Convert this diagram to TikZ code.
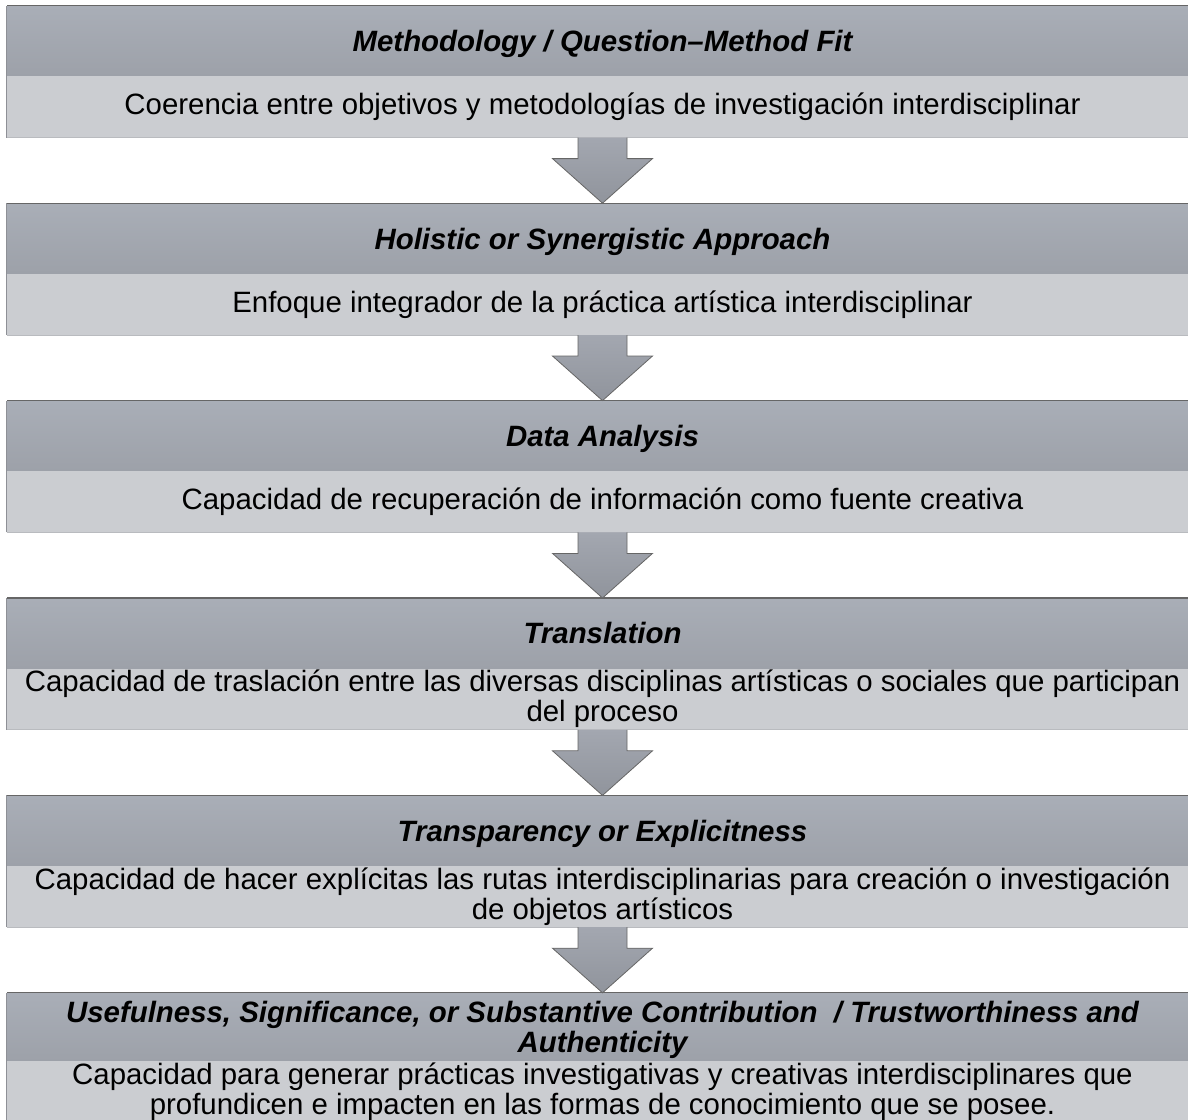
\documentclass[tikz,border=0pt]{standalone}
\usepackage{fontspec}
\setmainfont{Liberation Sans}
\usetikzlibrary{positioning,calc}

\definecolor{hdrtop}{HTML}{A9AEB7}
\definecolor{hdrbot}{HTML}{9DA1A9}
\definecolor{bodyfill}{HTML}{CBCDD1}
\definecolor{edgedark}{HTML}{666666}
\definecolor{edgemid}{HTML}{8E9096}
\definecolor{edgelight}{HTML}{B9BBBF}
\definecolor{arrowtop}{HTML}{A3A7B0}
\definecolor{arrowbot}{HTML}{90949C}

\begin{document}
\begin{tikzpicture}[x=1pt, y=-1pt, line join=miter,
  hdr/.style={rectangle, inner sep=0pt, minimum width=1191pt, minimum height=70pt,
    top color=hdrtop, bottom color=hdrbot, align=center, text depth=0pt,
    font=\fontsize{29.4}{30}\selectfont\bfseries\itshape},
  bdy/.style={rectangle, inner sep=0pt, minimum width=1191pt, minimum height=61pt,
    fill=bodyfill, align=center,
    font=\fontsize{29.4}{30}\selectfont},
  topedge/.style={draw=edgedark, line width=1.2pt},
  sideedge/.style={draw=edgemid, line width=0.9pt},
  baseedge/.style={draw=edgelight, line width=0.9pt},
  downarrow/.style={top color=arrowtop, bottom color=arrowbot, draw=edgedark, line width=0.8pt}]

  %% ════ 画布（先钉死）════
  \path[use as bounding box] (0,0) rectangle (1188,1119);

  %% ════ 六个块：标题 + 说明 ════
  \node[hdr] (h1) at (602.5,41.0) {Methodology / Question–Method Fit};
  \node[bdy, below=0pt of h1] (b1) {Coerencia entre objetivos y metodologías de investigación interdisciplinar};

  \node[hdr] (h2) at (602.5,238.4) {Holistic or Synergistic Approach};
  \node[bdy, below=0pt of h2] (b2) {Enfoque integrador de la práctica artística interdisciplinar};

  \node[hdr] (h3) at (602.5,435.8) {Data Analysis};
  \node[bdy, below=0pt of h3] (b3) {Capacidad de recuperación de información como fuente creativa};

  \node[hdr] (h4) at (602.5,633.2) {Translation};
  \node[bdy, below=0pt of h4] (b4) {Capacidad de traslación entre las diversas disciplinas artísticas o sociales que participan\\del proceso};

  \node[hdr] (h5) at (602.5,830.6) {Transparency or Explicitness};
  \node[bdy, below=0pt of h5] (b5) {Capacidad de hacer explícitas las rutas interdisciplinarias para creación o investigación\\de objetos artísticos};

  \node[hdr, minimum height=68pt] (h6) at (602.5,1027.0) {Usefulness, Significance, or Substantive Contribution~ / Trustworthiness and\\Authenticity};
  \node[bdy, below=0pt of h6] (b6) {Capacidad para generar prácticas investigativas y creativas interdisciplinares que\\profundicen e impacten en las formas de conocimiento que se posee.};

  %% ════ 边框：上边深、左边中、下边浅（标题与说明之间无线）════
  \draw[sideedge] (b1.south west) -- (h1.north west);
  \draw[sideedge] (b2.south west) -- (h2.north west);
  \draw[sideedge] (b3.south west) -- (h3.north west);
  \draw[sideedge] (b4.south west) -- (h4.north west);
  \draw[sideedge] (b5.south west) -- (h5.north west);
  \draw[sideedge] (b6.south west) -- (h6.north west);
  \draw[baseedge] (b1.south west) -- (b1.south east);
  \draw[baseedge] (b2.south west) -- (b2.south east);
  \draw[baseedge] (b3.south west) -- (b3.south east);
  \draw[baseedge] (b4.south west) -- (b4.south east);
  \draw[baseedge] (b5.south west) -- (b5.south east);
  \draw[topedge] (h1.north west) -- (h1.north east);
  \draw[topedge] (h2.north west) -- (h2.north east);
  \draw[topedge] (h3.north west) -- (h3.north east);
  \draw[topedge] (h4.north west) -- (h4.north east);
  \draw[topedge] (h5.north west) -- (h5.north east);
  \draw[topedge] (h6.north west) -- (h6.north east);

  %% ════ 块箭头（说明底 → 下一标题顶）════
  \draw[downarrow] ($(b1.south)+(-24.5,0)$) -- ($(b1.south)+(-24.5,21)$) -- ($(b1.south)+(-50,21)$) -- (h2.north) -- ($(b1.south)+(50,21)$) -- ($(b1.south)+(24.5,21)$) -- ($(b1.south)+(24.5,0)$);
  \draw[downarrow] ($(b2.south)+(-24.5,0)$) -- ($(b2.south)+(-24.5,21)$) -- ($(b2.south)+(-50,21)$) -- (h3.north) -- ($(b2.south)+(50,21)$) -- ($(b2.south)+(24.5,21)$) -- ($(b2.south)+(24.5,0)$);
  \draw[downarrow] ($(b3.south)+(-24.5,0)$) -- ($(b3.south)+(-24.5,21)$) -- ($(b3.south)+(-50,21)$) -- (h4.north) -- ($(b3.south)+(50,21)$) -- ($(b3.south)+(24.5,21)$) -- ($(b3.south)+(24.5,0)$);
  \draw[downarrow] ($(b4.south)+(-24.5,0)$) -- ($(b4.south)+(-24.5,21)$) -- ($(b4.south)+(-50,21)$) -- (h5.north) -- ($(b4.south)+(50,21)$) -- ($(b4.south)+(24.5,21)$) -- ($(b4.south)+(24.5,0)$);
  \draw[downarrow] ($(b5.south)+(-24.5,0)$) -- ($(b5.south)+(-24.5,21)$) -- ($(b5.south)+(-50,21)$) -- (h6.north) -- ($(b5.south)+(50,21)$) -- ($(b5.south)+(24.5,21)$) -- ($(b5.south)+(24.5,0)$);
\end{tikzpicture}
\end{document}
